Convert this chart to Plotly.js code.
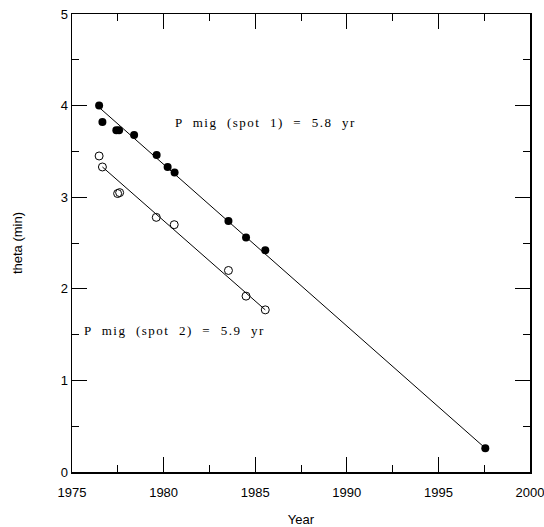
<!DOCTYPE html>
<html><head><meta charset="utf-8">
<script src="https://cdn.plot.ly/plotly-3.0.1.min.js"></script>
<style>html,body{margin:0;padding:0;background:#fff}</style>
</head><body><div id="chart" style="width:544px;height:527px"></div>
<script>
// Spot 1 (filled circles)
const spot1Year  = [1976.48, 1976.66, 1977.42, 1977.57, 1978.39, 1979.62, 1980.22, 1980.60, 1983.54, 1984.50, 1985.55, 1997.56];
const spot1Theta = [4.00, 3.82, 3.73, 3.73, 3.68, 3.46, 3.33, 3.27, 2.74, 2.56, 2.42, 0.26];
// Spot 2 (open circles)
const spot2Year  = [1976.48, 1976.66, 1977.49, 1977.60, 1979.60, 1980.58, 1983.54, 1984.50, 1985.55];
const spot2Theta = [3.45, 3.33, 3.04, 3.05, 2.78, 2.70, 2.20, 1.92, 1.77];
// Fitted lines
const fit1Year  = [1976.48, 1997.56];
const fit1Theta = [3.98, 0.26];
const fit2Year  = [1976.66, 1985.55];
const fit2Theta = [3.33, 1.77];
// Labels
const label1 = "P  mig  (spot  1)  =  5.8  yr";
const label2 = "P  mig  (spot  2)  =  5.9  yr";
const xTicks = [1975, 1980, 1985, 1990, 1995, 2000];
const yTicks = [0, 1, 2, 3, 4, 5];

const traces = [
  {x: fit1Year, y: fit1Theta, mode: 'lines', line: {color: '#000', width: 1}, hoverinfo: 'skip'},
  {x: fit2Year, y: fit2Theta, mode: 'lines', line: {color: '#000', width: 1}, hoverinfo: 'skip'},
  {x: spot1Year, y: spot1Theta, mode: 'markers', marker: {symbol: 'circle', size: 8, color: '#000'}},
  {x: spot2Year, y: spot2Theta, mode: 'markers', marker: {symbol: 'circle-open', size: 8, color: '#000', line: {width: 1, color: '#000'}}}
];

const axisCommon = {
  showgrid: false, zeroline: false, showline: true, linecolor: '#000', linewidth: 1.5,
  mirror: 'allticks', ticks: 'inside', ticklen: 15, tickwidth: 1, tickcolor: '#000',
  ticklabeloverflow: 'allow',
  tickfont: {family: 'Liberation Sans, Arial, sans-serif', size: 13, color: '#000'}
};

const annFont = {family: 'Liberation Serif, Times New Roman, serif', size: 13, color: '#000'};
function spaced(t) { return '<span style="letter-spacing:1.5px">' + t + '</span>'; }

const layout = {
  width: 544, height: 527,
  margin: {l: 72, r: 14, t: 14, b: 55},
  paper_bgcolor: '#fff', plot_bgcolor: '#fff',
  showlegend: false,
  xaxis: Object.assign({}, axisCommon, {
    range: [1975, 2000], tickvals: xTicks, ticktext: xTicks.map(String),
    ticklabelstandoff: 8,
    minor: {dtick: 2.5, tick0: 1975, ticks: 'inside', ticklen: 7, tickcolor: '#000', tickwidth: 1},
    title: {text: 'Year', font: {family: 'Liberation Sans, Arial, sans-serif', size: 13, color: '#000'}, standoff: 25}
  }),
  yaxis: Object.assign({}, axisCommon, {
    range: [0, 5], tickvals: yTicks, ticktext: yTicks.map(String),
    minor: {dtick: 0.5, tick0: 0, ticks: 'inside', ticklen: 7, tickcolor: '#000', tickwidth: 1},
    title: {text: 'theta (min)', font: {family: 'Liberation Sans, Arial, sans-serif', size: 13, color: '#000'}, standoff: 35}
  }),
  annotations: [
    {x: 1980.49, y: 3.82, xref: 'x', yref: 'y', text: spaced(label1), showarrow: false, xanchor: 'left',
     font: annFont},
    {x: 1975.55, y: 1.55, xref: 'x', yref: 'y', text: spaced(label2), showarrow: false, xanchor: 'left',
     font: annFont}
  ]
};

Plotly.newPlot('chart', traces, layout, {displayModeBar: false, staticPlot: true});
</script>
</body></html>
